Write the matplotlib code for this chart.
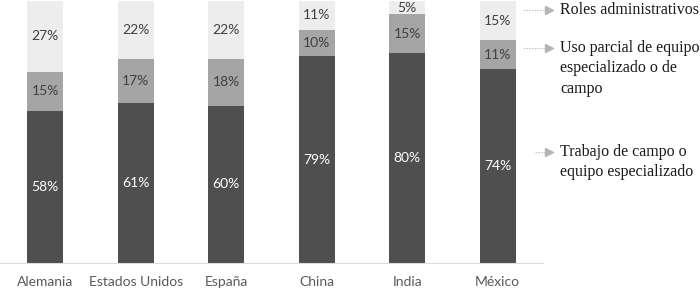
import numpy as np
import matplotlib.pyplot as plt

countries = ["Alemania", "Estados Unidos", "España", "China", "India", "México"]
campo = [58, 61, 60, 79, 80, 74]
parcial = [15, 17, 18, 10, 15, 11]
admin = [27, 22, 22, 11, 5, 15]
legend_lines = [["Roles administrativos"],
                ["Uso parcial de equipo", "especializado o de", "campo"],
                ["Trabajo de campo o", "equipo especializado"]]

fig = plt.figure(figsize=(7, 2.89), dpi=100)
ax = fig.add_axes([0, 1 - 263/289, 543/700, 263/289])

x = np.arange(len(countries))
w = 0.4
campo = np.array(campo); parcial = np.array(parcial); admin = np.array(admin)
ax.bar(x, campo, w, color="#4f4f4f")
ax.bar(x, parcial, w, bottom=campo, color="#a5a5a5")
ax.bar(x, admin, w, bottom=campo + parcial, color="#ededed")

nfont = dict(family="Lato", fontsize=10, ha="center", va="center")
for i in x:
    ax.text(i, campo[i] / 2, f"{campo[i]}%", color="white", **nfont)
    ax.text(i, campo[i] + parcial[i] / 2, f"{parcial[i]}%", color="#404040", **nfont)
    ax.text(i, campo[i] + parcial[i] + admin[i] / 2, f"{admin[i]}%", color="#404040", **nfont)

ax.set_xlim(-0.5, 5.5)
ax.set_ylim(0, 100.4)
for s in ["top", "right", "left"]:
    ax.spines[s].set_visible(False)
ax.spines["bottom"].set_color("#dcdcdc")
ax.set_yticks([])
ax.set_xticks(x)
ax.set_xticklabels(countries, family="Lato", fontsize=10, color="#595959")
ax.tick_params(axis="x", length=0, pad=9)

# legend arrows + text (figure pixel coords)
def fy(py):
    return 1 - py / 289

arrow_x0 = [523, 523, 535]
arrow_y = [10, 48, 152]
for x0, y0, lines in zip(arrow_x0, arrow_y, legend_lines):
    fig.add_artist(plt.Line2D([x0 / 700, 545 / 700], [fy(y0), fy(y0)],
                              color="#c8c8c8", lw=0.8, ls=(0, (1.5, 1))))
    fig.add_artist(plt.Line2D([549 / 700], [fy(y0)], marker=">", color="#b4b4b4",
                              markersize=6, ls="none"))
    for k, line in enumerate(lines):
        fig.text(560 / 700, fy(y0 + k * 20.5), line, family="Liberation Serif",
                 fontsize=11.5, color="#1a1a1a", va="center", ha="left")

fig.savefig("out.png", dpi=100)
